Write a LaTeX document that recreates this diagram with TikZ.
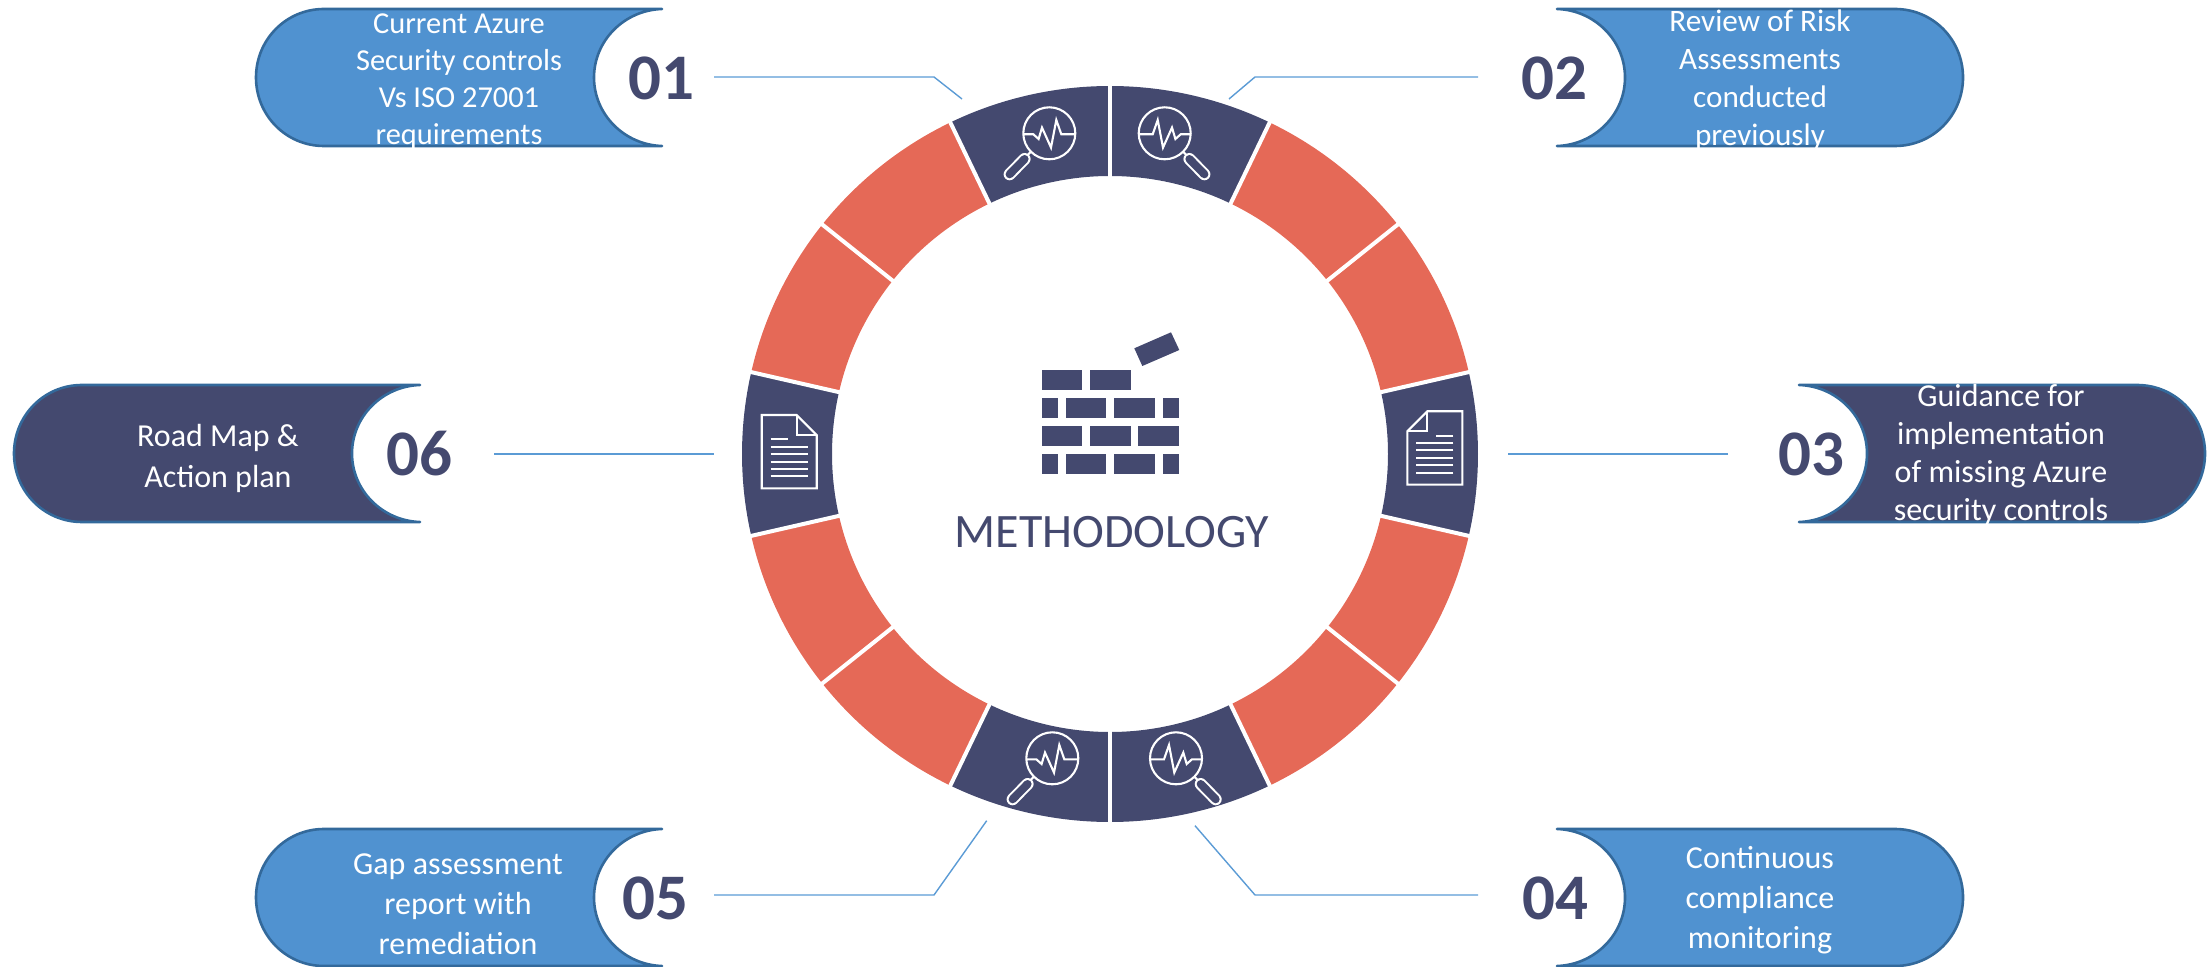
\documentclass[tikz,border=0pt]{standalone}
\usepackage{fontspec}
\setmainfont{Carlito}
\definecolor{navy}{HTML}{44496F}
\definecolor{skyfill}{HTML}{5092D0}
\definecolor{edgeblue}{HTML}{33699B}
\definecolor{coral}{HTML}{E56957}
\definecolor{linkblue}{HTML}{5B9BD5}
\tikzset{
  pillbody/.style={line width=1.3pt,draw=edgeblue,line join=round},
  pilltext/.style={text=white,align=center,inner sep=0pt},
  numlabel/.style={text=navy,inner sep=0pt,font=\fontsize{32.5}{33}\selectfont\bfseries},
  linkline/.style={draw=linkblue,line width=0.7pt},
  iconline/.style={draw=white,line width=1.05pt,line join=miter},
  brick/.style={fill=navy,draw=none}
}
% open-end x, direction, top y, fill colour
\newcommand{\pillshape}[4]{%
  \begin{scope}[shift={(#1,#3)},xscale=#2]
    \path[pillbody,fill=#4] (0,0) -- (-338,0)
      .. controls (-376,0) and (-406,30.7) .. (-406,68.5)
      .. controls (-406,106.3) and (-376,137) .. (-338,137)
      -- (0,137)
      .. controls (-37,136) and (-68,106) .. (-68,68.5)
      .. controls (-68,31) and (-37,1) .. (0,0) -- cycle;
  \end{scope}}
% centre x, centre y, direction
\newcommand{\magicon}[3]{%
  \begin{scope}[shift={(#1,#2)},xscale=#3]
    \draw[iconline] (0,0) circle[radius=26];
    \draw[iconline] (-26,1) -- (-16,1) -- (-10.7,5.7) -- (-7.3,-5.7) -- (1.7,14.3) -- (7,-13.3) -- (12,1) -- (26,1);
    \draw[iconline] (-18.5,18.5) -- (-23,23);
    \draw[draw=white,line width=6pt,line cap=round] (-24.7,25.7) -- (-39.7,41);
    \draw[draw=navy,line width=4pt,line cap=round] (-24.7,25.7) -- (-39.7,41);
  \end{scope}}
% centre x, centre y, direction (1: fold at right)
\newcommand{\docicon}[3]{%
  \begin{scope}[shift={(#1,#2)},xscale=#3]
    \draw[iconline] (-27.5,-36.7) -- (7.5,-36.7) -- (27.5,-16.7) -- (27.5,36.7) -- (-27.5,36.7) -- cycle;
    \draw[iconline] (7.5,-36.7) -- (7.5,-16.7) -- (27.5,-16.7);
    \draw[iconline] (-18.5,-12.4) -- (-0.9,-12.4);
    \foreach \ly in {-5,2.3,10,17.3,24.6}
      \draw[iconline] (-18.5,\ly) -- (19,\ly);
  \end{scope}}
\begin{document}
\begin{tikzpicture}[x=0.5pt,y=-0.5pt]
\useasboundingbox (0,0) rectangle (2211,967);
% ring
\begin{scope}[shift={(1110,454)}]
  \foreach \i/\c in {0/navy,1/coral,2/coral,3/navy,4/coral,5/coral,6/navy,7/navy,8/coral,9/coral,10/navy,11/coral,12/coral,13/navy}{
    \pgfmathsetmacro{\sa}{90-\i*360/14}
    \pgfmathsetmacro{\ea}{90-(\i+1)*360/14}
    \fill[\c] (\sa:184pt) arc[start angle=\sa,end angle=\ea,radius=184pt]
      -- (\ea:139pt) arc[start angle=\ea,end angle=\sa,radius=139pt] -- cycle;
  }
  \foreach \i in {0,...,13}{
    \pgfmathsetmacro{\sa}{90-\i*360/14}
    \draw[white,line width=2pt] (\sa:136pt) -- (\sa:187pt);
  }
\end{scope}
% icons on the ring
\magicon{1049.3}{133.3}{1}
\magicon{1164.7}{133.3}{-1}
\magicon{1052.3}{758.3}{1}
\magicon{1176}{758.3}{-1}
\docicon{1434.9}{448}{-1}
\docicon{789.2}{451.7}{1}
% brick wall
\foreach \xa/\xb/\ya/\yb in {
  1041.7/1082.3/370/390.3, 1090/1130.7/370/390.3,
  1041.7/1058/398.3/418.3, 1066/1106.3/398.3/418.3, 1114.3/1154.7/398.3/418.3, 1162.7/1179/398.3/418.3,
  1041.7/1082.3/426.3/446.3, 1090/1130.7/426.3/446.3, 1138.3/1179/426.3/446.3,
  1041.7/1058/454.3/474.3, 1066/1106.3/454.3/474.3, 1114.3/1154.7/454.3/474.3, 1162.7/1179/454.3/474.3}
  \fill[brick] (\xa,\ya) rectangle (\xb,\yb);
\fill[brick] (1134.3,348.3) -- (1171,332.3) -- (1179.3,350) -- (1142.3,366) -- cycle;
\node[text=navy,inner sep=0pt,font=\fontsize{24}{24}\selectfont] (title) at (1112,532) {METHODOLOGY};
% pills
\pillshape{662}{1}{9}{skyfill}
\pillshape{1557}{-1}{9}{skyfill}
\pillshape{1799}{-1}{385}{navy}
\pillshape{420}{1}{385}{navy}
\pillshape{662}{1}{829}{skyfill}
\pillshape{1557}{-1}{829}{skyfill}
% pill texts
\node[pilltext,font=\fontsize{15.2}{18.5}\selectfont] (t1) at (459,82) {Current Azure\\Security controls\\Vs ISO 27001\\requirements};
\node[pilltext,font=\fontsize{15.6}{19}\selectfont] (t2) at (1760,80) {Review of Risk\\Assessments\\conducted\\previously};
\node[pilltext,font=\fontsize{16}{19}\selectfont] (t3) at (2001,455) {Guidance for\\implementation\\of missing Azure\\security controls};
\node[pilltext,font=\fontsize{16}{20.5}\selectfont] (t6) at (218,458.5) {Road Map \&\\Action plan};
\node[pilltext,font=\fontsize{16}{20}\selectfont] (t5) at (458,904) {Gap assessment\\report with\\remediation};
\node[pilltext,font=\fontsize{16}{20}\selectfont] (t4) at (1760,900.5) {Continuous\\compliance\\monitoring};
% numbers
\node[numlabel] (n1) at (661,78) {01};
\node[numlabel] (n2) at (1554,78) {02};
\node[numlabel] (n3) at (1811,454) {03};
\node[numlabel] (n6) at (419,454) {06};
\node[numlabel] (n5) at (655,898) {05};
\node[numlabel] (n4) at (1555,898) {04};
% connectors
\coordinate (a1) at (714,77); \coordinate (b1) at (934,77); \coordinate (c1) at (962,99);
\coordinate (a2) at (1478,77); \coordinate (b2) at (1255,77); \coordinate (c2) at (1229,99);
\coordinate (a3) at (1728,454); \coordinate (c3) at (1508,454);
\coordinate (a6) at (494,454); \coordinate (c6) at (714,454);
\coordinate (a5) at (714,895); \coordinate (b5) at (934,895); \coordinate (c5) at (986.7,820.7);
\coordinate (a4) at (1478,895); \coordinate (b4) at (1255,895); \coordinate (c4) at (1195,825.7);
\draw[linkline] (a1) -- (b1) -- (c1);
\draw[linkline] (a2) -- (b2) -- (c2);
\draw[linkline] (a3) -- (c3);
\draw[linkline] (a6) -- (c6);
\draw[linkline] (a5) -- (b5) -- (c5);
\draw[linkline] (a4) -- (b4) -- (c4);
\end{tikzpicture}
\end{document}
